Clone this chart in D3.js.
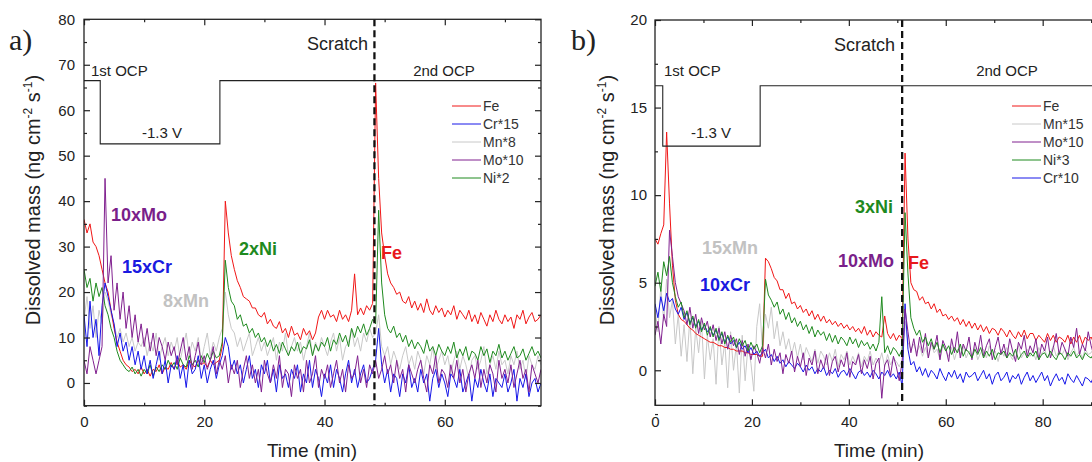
<!DOCTYPE html>
<html>
<head>
<meta charset="utf-8">
<script src="https://cdn.jsdelivr.net/npm/d3@7"></script>
<style>
  body { margin: 0; background: #fff; }
  svg { display: block; font-family: "Liberation Sans", Arial, sans-serif; }
</style>
</head>
<body>
<div id="chart"></div>
<script>
// --------------------
// DATA  panel a (every 0.5 min, 0..76)
// --------------------
const timeA = d3.range(0, 76.01, 0.5);

const feA = [
  36,33,35,31,30,28,25,22,20,16,
  12,9,7,5,4,3.5,2.5,3,2,3.5,
  2,3,1.5,3,2.5,4,2,3.5,3,4.5,
  3,5,3.5,4,3,5,4,3.5,5,4,
  4.5,3.5,5,4,4.5,5,8,40,33,28,
  25,22.5,21,19,18.5,18,16.5,16.5,15,14.5,
  15.5,13,14,12.5,12,13.5,11,12,10,12.5,
  10.5,11,9.5,12,10.5,11.5,9.5,11,14.5,16,
  14,16,14.5,15,13.5,16,14,15,13.5,16,
  24,15,16.5,15,17,16,17.5,66,45,33,
  28,24,22,21,19.5,20,18,17.5,19,16.5,
  18,16,17.5,15.5,18.5,16,15,17,15.5,16.5,
  14.5,16,15,17,14,16,15,14,16,13.5,
  15,13,15.5,14,12.5,15,13.5,16,14,13,
  15,13.5,14.5,12,15,14,16,13,14.5,15.5,
  13.5,14,15
];
const crA = [
  15,8,18,10,14,6,17,22,19,16,
  13,8,11,7,9,5,8,4,7,3,
  6,2,5,1,4,7,2,5,0,4,
  3,6,1,4,-1,5,2,3,6,1,
  4,0,3,5,1,4,6,10,8,3,
  5,2,4,0,3,6,1,3,-1,4,
  2,5,0,3,-2,4,1,2,-1,3,
  1,4,-2,2,0,5,-1,3,1,-3,
  2,0,4,-1,3,1,-2,2,5,0,
  3,-1,2,4,0,1,3,5,12,4,
  0,3,-2,2,1,-3,2,0,4,-1,
  1,-2,3,0,2,-4,1,3,-1,2,
  0,-3,2,1,-1,3,-2,0,2,-4,
  1,-1,3,0,-2,2,-3,1,0,-1,
  2,-2,0,3,-4,1,-1,2,-3,0,
  1,-2,0
];
const mnA = [
  14,19,12,17,10,16,13,20,18,15,
  13,10,12,9,11,8,10,7,9,8,
  10,6,9,7,11,5,8,10,6,9,
  7,10,5,8,11,6,9,7,10,5,
  8,11,6,9,7,10,12,20,15,12,
  11,8,10,7,9,11,6,8,10,7,
  9,6,8,10,5,9,7,11,6,8,
  10,7,9,5,8,11,6,9,7,10,
  8,6,9,11,7,10,5,8,9,12,
  8,10,7,11,9,12,10,11,15,8,
  6,8,4,7,5,3,6,8,4,6,
  3,7,5,2,6,4,8,3,5,7,
  4,6,2,5,7,3,6,4,1,5,
  6,3,5,8,2,4,6,3,7,4,
  5,2,6,4,7,3,5,1,6,4,
  3,6,4
];
const moA = [
  5,2,8,5,2,5,8,45,22,28,
  16,22,14,20,12,17,10,15,9,13,
  8,12,7,11,6,10,8,5,9,6,
  8,4,7,10,5,8,3,6,9,4,
  6,3,5,8,2,5,3,6,0,4,
  2,5,-1,3,6,1,4,0,3,-2,
  5,2,0,4,1,6,-1,3,2,-3,
  4,1,3,-2,5,0,2,6,-1,3,
  1,4,-1,2,5,0,3,-2,4,1,
  2,6,0,3,-1,4,2,5,1,3,
  6,2,4,0,5,1,3,-2,4,2,
  0,3,5,1,-2,4,2,6,0,3,
  2,-1,4,1,5,0,3,-2,2,4,
  1,5,-1,3,0,4,2,-2,5,1,
  3,0,4,-1,2,5,1,3,-2,4,
  2,0,3
];
const niA = [
  25,21,23,18,22,19,21,17,15,12,
  10,7,5,4,3,2.5,3.5,2,3,1.5,
  3,2,4,1.5,3.5,2.5,4,3,5,3.5,
  4.5,3,5.5,4,3.5,6,4,5,3.5,6,
  4.5,6.5,5,7,5.5,6,9,27,21,18,
  17,14,15,12.5,13,11,12,10,11,9,
  10,8,9.5,7,8.5,6.5,9,7.5,6,8,
  7,9,6.5,8,7.5,9.5,6,8.5,7,9,
  8,10,7,9.5,8.5,11,9,10.5,8,12,
  10,12.5,11,13,10.5,12,14,13,38,22,
  15,12,11,12.5,10,11,9,10.5,8,9.5,
  7.5,9,8,6.5,9.5,7,8,6,8.5,7,
  6,8,6.5,9,5.5,7.5,6,8,5,7,
  6.5,5,8,6,7.5,4.5,7,6,8.5,5.5,
  7,5,6.5,8,5.5,6,7.5,5,6.5,8,
  6,7,5.5
];

// potential program a: step times / levels
const stepTimeA = [0, 2.7, 22.6, 76];
const stepLevelA = [66.5, 52.6, 66.5, 66.5];
const scratchA = 48.3;

// --------------------
// DATA  panel b (every 0.6 min, 0..96)
// --------------------
const timeB = d3.range(0, 96.01, 0.6);

const feB = [
  7.5,7.2,7.8,8.3,13.6,9.5,6.0,4.0,3.2,2.9,
  2.8,2.6,2.4,2.3,2.1,2.0,1.9,1.8,1.7,1.6,
  1.6,1.5,1.4,1.4,1.3,1.3,1.2,1.2,1.1,1.1,
  1.1,1.0,1.0,0.9,0.9,0.9,0.8,0.8,6.4,6.2,
  5.8,5.3,5.1,4.6,4.6,4.1,4.4,3.8,3.9,3.5,
  3.7,3.3,3.5,3.1,3.4,2.9,3.2,2.8,3.1,2.7,
  2.9,2.6,2.8,2.5,2.7,2.4,2.6,2.3,2.5,2.2,
  2.4,2.1,2.5,2.0,2.3,1.9,2.2,2.0,1.9,3.1,
  2.1,1.8,2.1,1.7,2.0,1.8,12.4,7.5,5.0,4.6,
  4.5,4.0,4.2,3.8,3.9,3.5,3.8,3.3,3.5,3.1,
  3.2,2.9,3.1,2.8,3.0,2.6,2.9,2.5,2.8,2.4,
  2.7,2.3,2.6,2.2,2.5,2.1,2.4,2.3,2.0,2.4,
  2.2,1.9,2.3,2.0,1.8,2.2,1.9,2.3,1.8,2.1,
  2.1,1.7,2.0,1.8,1.6,2.1,1.7,2.0,1.6,1.9,
  1.8,1.6,2.0,1.5,1.9,1.6,2.0,1.5,1.9,1.7,
  1.9,1.5,2.0,1.6,1.9,1.5,2.0,1.6,1.8,1.5,
  1.8
];
const mnB = [
  3.5,2.2,4.8,2.8,5.2,3.0,4.0,1.5,3.2,0.8,
  2.6,0.5,3.0,-0.2,2.4,1.0,2.8,-0.5,2.0,0.6,
  1.8,-0.8,2.5,0.3,1.6,-1.0,2.2,0.0,1.5,-1.3,
  2.0,-0.6,1.4,0.4,-1.2,2.5,3.8,1.0,3.2,2.4,
  3.6,1.8,2.8,1.4,2.2,1.2,1.8,0.9,1.6,0.7,
  1.5,0.6,1.3,0.9,0.5,1.2,0.4,1.1,0.8,0.3,
  1.0,0.5,1.2,0.2,0.9,0.6,1.1,0.3,0.8,0.4,
  1.0,0.2,0.8,0.5,1.1,0.3,0.7,0.4,1.0,0.2,
  0.9,0.3,0.7,0.5,0.2,0.6,2.8,1.6,1.2,1.5,
  1.0,1.4,0.8,1.3,0.7,1.5,1.0,1.2,0.6,1.4,
  1.1,0.8,1.3,0.6,1.2,0.9,1.4,0.7,1.1,0.8,
  1.3,0.6,1.0,1.2,0.7,1.4,0.9,1.1,0.5,1.2,
  0.8,1.3,0.9,0.6,1.1,1.4,0.7,1.0,1.2,0.8,
  1.1,0.6,1.3,0.9,1.2,0.7,1.0,1.4,0.8,1.1,
  0.9,1.2,0.6,1.0,1.3,0.8,1.1,0.7,1.2,0.9,
  1.0,1.3,0.8,1.1,0.7,1.2,0.9,1.0,1.3,0.8,
  1.0
];
const moB = [
  2.0,2.8,1.5,3.2,2.5,8.0,6.5,5.0,4.2,3.8,
  3.4,2.6,3.6,2.4,3.2,2.1,3.0,2.3,2.8,1.9,
  2.6,1.7,2.4,1.5,2.2,1.2,2.0,1.4,1.8,0.9,
  1.7,0.8,1.5,0.6,1.4,1.0,0.4,1.3,0.7,1.5,
  0.3,1.2,0.5,1.0,-0.2,0.9,0.4,1.1,-0.1,0.8,
  0.2,1.0,-0.3,0.7,0.3,1.1,-0.2,0.6,0.1,0.9,
  -0.3,0.5,0.8,-0.1,0.6,0.2,1.0,-0.4,0.5,0.3,
  0.9,-0.2,0.6,0.1,0.8,-0.5,0.4,0.7,-1.6,0.3,
  0.6,-0.3,0.8,0.2,-0.6,0.5,3.5,2.2,1.0,1.8,
  0.8,1.9,1.0,2.1,0.7,1.6,1.2,2.0,0.6,1.7,
  1.3,0.5,1.8,1.0,2.2,0.7,1.5,1.1,1.9,0.6,
  1.6,1.0,2.0,0.8,1.4,1.8,0.6,1.3,1.9,0.9,
  1.5,0.7,1.8,1.1,0.5,1.6,1.2,2.0,0.8,1.4,
  1.0,1.8,0.6,1.5,1.1,1.9,0.7,1.3,2.1,0.9,
  1.6,1.2,0.8,1.9,1.3,2.4,0.9,1.5,1.1,2.2,
  1.4,0.8,1.9,1.2,1.7,2.3,1.0,1.6,2.5,1.3,
  1.8
];
const niB = [
  4.8,5.6,4.5,6.2,5.4,6.5,5.0,4.2,3.6,3.9,
  3.0,3.4,2.6,3.1,2.4,2.9,2.2,2.7,2.0,2.5,
  1.9,2.4,1.7,2.2,1.5,2.0,1.6,1.9,1.3,1.8,
  1.4,1.7,1.1,1.6,1.2,1.5,1.0,1.4,5.2,4.3,
  4.0,3.6,3.9,3.2,3.5,2.9,3.3,2.7,3.0,2.5,
  2.8,2.3,2.6,2.1,2.5,1.9,2.3,2.0,2.2,1.7,
  2.1,1.6,2.0,1.5,1.9,1.7,1.4,1.9,1.5,1.8,
  1.3,1.7,1.4,1.6,1.2,1.5,1.1,1.6,4.2,1.0,
  1.4,0.9,1.3,1.1,0.8,1.2,9.0,5.5,3.0,2.4,
  2.0,2.3,1.6,1.9,1.4,1.8,1.2,1.6,1.0,1.5,
  1.1,1.4,0.9,1.3,1.0,1.5,0.8,1.2,1.0,0.7,
  1.2,0.9,1.3,0.7,1.1,0.8,1.2,0.6,1.0,0.9,
  1.1,0.7,1.0,0.8,1.2,0.6,0.9,1.1,0.7,1.0,
  0.8,1.1,0.6,0.9,1.0,0.7,1.1,0.8,0.6,1.0,
  0.9,0.6,1.0,0.8,1.1,0.7,0.9,0.6,1.0,0.8,
  0.7,1.0,0.8,0.6,0.9,1.1,0.7,0.9,0.6,0.8,
  0.9
];
const crB = [
  3.8,3.0,4.2,3.4,4.4,3.9,4.1,3.5,3.2,3.6,
  2.9,3.3,2.7,3.0,2.5,2.8,2.3,2.6,2.2,2.4,
  2.0,2.3,1.8,2.1,1.6,1.9,1.5,1.7,1.3,1.6,
  1.2,1.4,1.0,1.3,0.9,1.1,0.8,1.0,1.2,0.7,
  0.9,0.5,0.8,0.4,0.6,0.2,0.5,0.3,0.1,0.4,
  0.2,-0.1,0.3,0.0,0.2,-0.2,0.1,-0.1,0.2,-0.3,
  0.0,-0.2,0.1,-0.4,-0.1,0.0,-0.3,0.1,-0.2,-0.5,
  -0.1,0.0,-0.3,-0.1,-0.4,0.0,-0.2,-0.5,-0.1,-0.3,
  0.0,-0.4,-0.2,-0.5,-0.1,-0.9,3.8,1.2,0.3,0.5,
  -0.1,0.2,-0.3,0.1,-0.4,0.0,-0.2,-0.5,0.1,-0.3,
  -0.6,-0.1,-0.4,0.0,-0.5,-0.2,-0.7,-0.1,-0.4,-0.3,
  -0.1,-0.6,-0.3,0.0,-0.5,-0.2,-0.8,-0.3,-0.1,-0.6,
  -0.4,-0.1,-0.7,-0.3,-0.5,-0.2,-0.8,-0.4,-0.1,-0.6,
  -0.3,-0.7,-0.4,-0.1,-0.6,-0.3,-0.9,-0.5,-0.2,-0.6,
  -0.4,-0.8,-0.2,-0.5,-0.7,-0.3,-0.6,-0.9,-0.4,-0.5,
  -0.7,-0.3,-0.6,-0.4,-0.8,-0.5,-0.2,-0.7,-0.4,-0.6,
  -0.5
];

const stepTimeB = [0, 1.6, 21.7, 100];
const stepLevelB = [16.25, 12.8, 16.25, 16.25];
const scratchB = 51;

// tick values (panel b is cut by the page edge, so 100 is not shown)
const xMajorA = [0, 20, 40, 60];
const xMinorA = [10, 30, 50, 70];
const yMajorA = [0, 10, 20, 30, 40, 50, 60, 70, 80];
const yMinorA = [-5, 5, 15, 25, 35, 45, 55, 65, 75];
const xMajorB = [0, 20, 40, 60, 80];
const xMinorB = [10, 30, 50, 70, 90];
const yMajorB = [0, 5, 10, 15, 20];
const yMinorB = [-2.5, 2.5, 7.5, 12.5, 17.5];

const colors = {
  Fe: "#f01616", Cr: "#1616e8", Mn: "#c8c8c8", Mo: "#80208f", Ni: "#1f8a1f"
};

// --------------------
// SVG
// --------------------
const width = 1092;
const height = 462;

const svg = d3.select("#chart")
  .append("svg")
  .attr("width", width)
  .attr("height", height);

svg.append("rect").attr("width", width).attr("height", height).attr("fill", "#fff");

function drawPanel(p) {
  const x = d3.scaleLinear().domain(p.xDomain).range(p.xRange);
  const y = d3.scaleLinear().domain(p.yDomain).range(p.yRange);
  const top = p.yRange[1], bottom = p.yRange[0];
  const left = p.xRange[0], right = p.xRange[1];

  svg.append("clipPath").attr("id", "clip" + p.id)
    .append("rect")
    .attr("x", left).attr("y", top)
    .attr("width", right - left).attr("height", bottom - top);

  const plot = svg.append("g").attr("clip-path", `url(#clip${p.id})`);

  // series (draw order differs from legend order)
  p.drawOrder.forEach(s => {
    const n = Math.min(s.values.length, p.time.length);
    plot.append("path")
      .datum(s.values.slice(0, n))
      .attr("fill", "none")
      .attr("stroke", s.color)
      .attr("stroke-width", 1)
      .attr("d", d3.line()
        .x((d, i) => x(p.time[i]))
        .y(d => y(d)));
  });

  // potential step line
  plot.append("path")
    .datum(p.stepTime.map((t, i) => [t, p.stepLevel[i]]))
    .attr("fill", "none")
    .attr("stroke", "#222")
    .attr("stroke-width", 1.1)
    .attr("d", d3.line().curve(d3.curveStepAfter)
      .x(d => x(d[0]))
      .y(d => y(d[1])));

  // scratch marker
  plot.append("line")
    .attr("x1", x(p.scratch)).attr("x2", x(p.scratch))
    .attr("y1", top).attr("y2", bottom)
    .attr("stroke", "#111")
    .attr("stroke-width", 2.3)
    .attr("stroke-dasharray", "7,4");

  // axes, ticks inward
  const axisStyle = g => {
    g.select(".domain").remove();
    g.selectAll(".tick line").attr("stroke", "#222").attr("stroke-width", 1.2);
    g.selectAll("text").attr("fill", "#222").style("font-size", "15px")
      .style("font-family", "Liberation Sans, Arial, sans-serif");
  };

  svg.append("g").attr("transform", `translate(0,${bottom})`)
    .call(d3.axisBottom(x).tickValues(p.xMajor).tickSize(-6).tickPadding(11))
    .call(axisStyle);
  svg.append("g").attr("transform", `translate(0,${bottom})`)
    .call(d3.axisBottom(x).tickValues(p.xMinor).tickSize(-3).tickFormat(""))
    .call(axisStyle);
  svg.append("g").attr("transform", `translate(0,${top})`)
    .call(d3.axisTop(x).tickValues(p.xMajor).tickSize(-6).tickFormat(""))
    .call(axisStyle);
  svg.append("g").attr("transform", `translate(0,${top})`)
    .call(d3.axisTop(x).tickValues(p.xMinor).tickSize(-3).tickFormat(""))
    .call(axisStyle);

  svg.append("g").attr("transform", `translate(${left},0)`)
    .call(d3.axisLeft(y).tickValues(p.yMajor).tickSize(-6).tickPadding(p.yPad))
    .call(axisStyle);
  svg.append("g").attr("transform", `translate(${left},0)`)
    .call(d3.axisLeft(y).tickValues(p.yMinor).tickSize(-3).tickFormat(""))
    .call(axisStyle);
  svg.append("g").attr("transform", `translate(${right},0)`)
    .call(d3.axisRight(y).tickValues(p.yMajor).tickSize(-6).tickFormat(""))
    .call(axisStyle);
  svg.append("g").attr("transform", `translate(${right},0)`)
    .call(d3.axisRight(y).tickValues(p.yMinor).tickSize(-3).tickFormat(""))
    .call(axisStyle);

  // frame
  svg.append("rect")
    .attr("x", left).attr("y", top)
    .attr("width", right - left).attr("height", bottom - top)
    .attr("fill", "none")
    .attr("stroke", "#222")
    .attr("stroke-width", 1.3);

  // legend
  p.legend.forEach((s, i) => {
    const ly = p.legendY + i * 18;
    svg.append("line")
      .attr("x1", p.legendX).attr("x2", p.legendX + 29)
      .attr("y1", ly).attr("y2", ly)
      .attr("stroke", s.color).attr("stroke-width", 1);
    svg.append("text")
      .attr("x", p.legendX + 31).attr("y", ly + 5)
      .attr("fill", "#333")
      .style("font-size", "14px")
      .text(s.name);
  });

  // axis titles
  svg.append("text")
    .attr("x", p.xTitleX).attr("y", 457)
    .attr("text-anchor", "middle")
    .attr("fill", "#222")
    .style("font-size", "19px")
    .text("Time (min)");

  const yt = svg.append("text")
    .attr("transform", `translate(${p.yTitleX},200) rotate(-90)`)
    .attr("text-anchor", "middle")
    .attr("fill", "#222")
    .style("font-size", "20px");
  yt.append("tspan").text("Dissolved mass (ng cm");
  yt.append("tspan").attr("dy", -8).style("font-size", "12px").text("-2");
  yt.append("tspan").attr("dy", 8).text(" s");
  yt.append("tspan").attr("dy", -8).style("font-size", "12px").text("-1");
  yt.append("tspan").attr("dy", 8).text(")");

  // panel label
  svg.append("text")
    .attr("x", p.tagX).attr("y", 50)
    .attr("fill", "#222")
    .style("font-family", "Liberation Serif, serif")
    .style("font-size", "30px")
    .text(p.tag);

  // notes
  p.notes.forEach(n => {
    svg.append("text")
      .attr("x", n.x).attr("y", n.y)
      .attr("text-anchor", n.anchor || "start")
      .attr("fill", n.color || "#222")
      .style("font-size", n.size + "px")
      .style("font-weight", n.bold ? "bold" : "normal")
      .text(n.text);
  });
}

// --------------------
// PANEL A
// --------------------
const serA = {
  Fe: { name: "Fe", values: feA, color: colors.Fe },
  Cr: { name: "Cr*15", values: crA, color: colors.Cr },
  Mn: { name: "Mn*8", values: mnA, color: colors.Mn },
  Mo: { name: "Mo*10", values: moA, color: colors.Mo },
  Ni: { name: "Ni*2", values: niA, color: colors.Ni }
};

drawPanel({
  id: "a", tag: "a)", tagX: 9,
  time: timeA,
  xDomain: [0, 76], xRange: [84, 541],
  yDomain: [-5, 80], yRange: [405.7, 19.3],
  xMajor: xMajorA, xMinor: xMinorA, yMajor: yMajorA, yMinor: yMinorA, yPad: 9,
  stepTime: stepTimeA, stepLevel: stepLevelA, scratch: scratchA,
  drawOrder: [serA.Mn, serA.Fe, serA.Ni, serA.Cr, serA.Mo],
  legend: [serA.Fe, serA.Cr, serA.Mn, serA.Mo, serA.Ni],
  legendX: 452, legendY: 106,
  xTitleX: 312, yTitleX: 40,
  notes: [
    { text: "Scratch", x: 368, y: 50, anchor: "end", size: 18 },
    { text: "1st OCP", x: 91, y: 76, size: 15 },
    { text: "2nd OCP", x: 444, y: 76, anchor: "middle", size: 15 },
    { text: "-1.3 V", x: 162, y: 138, anchor: "middle", size: 15 },
    { text: "10xMo", x: 111, y: 221, size: 18, bold: true, color: "#7a1f8a" },
    { text: "15xCr", x: 122, y: 273, size: 18, bold: true, color: "#1a1ae0" },
    { text: "8xMn", x: 163, y: 307, size: 18, bold: true, color: "#c2c2c2" },
    { text: "2xNi", x: 239, y: 255, size: 18, bold: true, color: "#1f8a1f" },
    { text: "Fe", x: 381, y: 259, size: 18, bold: true, color: "#e8191b" }
  ]
});

// --------------------
// PANEL B
// --------------------
const serB = {
  Fe: { name: "Fe", values: feB, color: colors.Fe },
  Mn: { name: "Mn*15", values: mnB, color: colors.Mn },
  Mo: { name: "Mo*10", values: moB, color: colors.Mo },
  Ni: { name: "Ni*3", values: niB, color: colors.Ni },
  Cr: { name: "Cr*10", values: crB, color: colors.Cr }
};

drawPanel({
  id: "b", tag: "b)", tagX: 571,
  time: timeB,
  xDomain: [0, 100], xRange: [655, 1139.6],
  yDomain: [-2, 20], yRange: [405.3, 20],
  xMajor: xMajorB, xMinor: xMinorB, yMajor: yMajorB, yMinor: yMinorB, yPad: 8,
  stepTime: stepTimeB, stepLevel: stepLevelB, scratch: scratchB,
  drawOrder: [serB.Mn, serB.Fe, serB.Cr, serB.Mo, serB.Ni],
  legend: [serB.Fe, serB.Mn, serB.Mo, serB.Ni, serB.Cr],
  legendX: 1012, legendY: 106,
  xTitleX: 879, yTitleX: 614,
  notes: [
    { text: "Scratch", x: 895, y: 51, anchor: "end", size: 18 },
    { text: "1st OCP", x: 664, y: 76, size: 15 },
    { text: "2nd OCP", x: 1007, y: 76, anchor: "middle", size: 15 },
    { text: "-1.3 V", x: 711, y: 138, anchor: "middle", size: 15 },
    { text: "3xNi", x: 855, y: 213, size: 18, bold: true, color: "#1f8a1f" },
    { text: "15xMn", x: 702, y: 254, size: 18, bold: true, color: "#c2c2c2" },
    { text: "10xCr", x: 700, y: 291, size: 18, bold: true, color: "#1a1ae0" },
    { text: "10xMo", x: 838, y: 267, size: 18, bold: true, color: "#7a1f8a" },
    { text: "Fe", x: 908, y: 269, size: 18, bold: true, color: "#e8191b" }
  ]
});
</script>
</body>
</html>
